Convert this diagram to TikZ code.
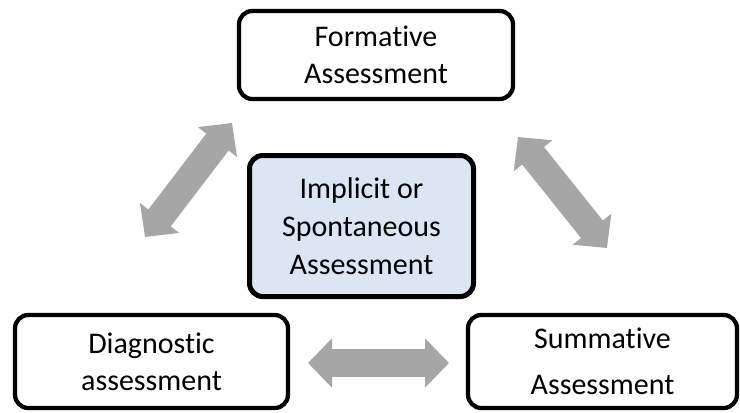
\documentclass[tikz,border=0pt]{standalone}
\usepackage{fontspec}
\setmainfont{Carlito}[Ligatures=NoCommon]
\usetikzlibrary{arrows.meta}
\definecolor{boxblue}{HTML}{DCE6F2}
\definecolor{arrowgray}{HTML}{A6A6A6}
\tikzset{
  assess/.style={draw, line width=3.2pt, rounded corners=10pt, align=center,
    font=\fontsize{22.5}{28}\selectfont, inner sep=0pt},
  twoway/.style={draw=arrowgray, line width=21pt,
    {Triangle[length=18pt,width=36pt]}-{Triangle[length=18pt,width=36pt]}}
}
\begin{document}
\begin{tikzpicture}[x=0.75pt, y=-0.75pt]
  \useasboundingbox (0,0) rectangle (740,412); % same size as the reference
  % the four boxes
  \node[assess, minimum width=205.5pt, minimum height=66pt] (formative) at (376,55) {Formative\\Assessment};
  \node[assess, fill=boxblue, line width=3.75pt, minimum width=168pt, minimum height=105.75pt,
    font=\fontsize{22.5}{28.5}\selectfont] (implicit) at (361.5,226) {Implicit or\\Spontaneous\\Assessment};
  \node[assess, minimum width=204.75pt, minimum height=69.75pt] (diagnostic) at (151.5,361.5) {Diagnostic\\assessment};
  \node[assess, minimum width=201.75pt, minimum height=69.75pt,
    font=\fontsize{22.5}{34.5}\selectfont] (summative) at (602.5,361.5) {Summative\\Assessment};

  % ends of the grey arrows
  \coordinate (dtop) at (145,237);
  \coordinate (fleft) at (232,123);
  \coordinate (fright) at (518,137);
  \coordinate (stop) at (607,248);
  \coordinate (dright) at (308,363);
  \coordinate (sleft) at (449,363);

  \draw[twoway] (dtop) -- (fleft); % diagnostic <-> formative
  \draw[twoway] (fright) -- (stop); % formative <-> summative
  \draw[twoway] (dright) -- (sleft); % diagnostic <-> summative
\end{tikzpicture}
\end{document}
